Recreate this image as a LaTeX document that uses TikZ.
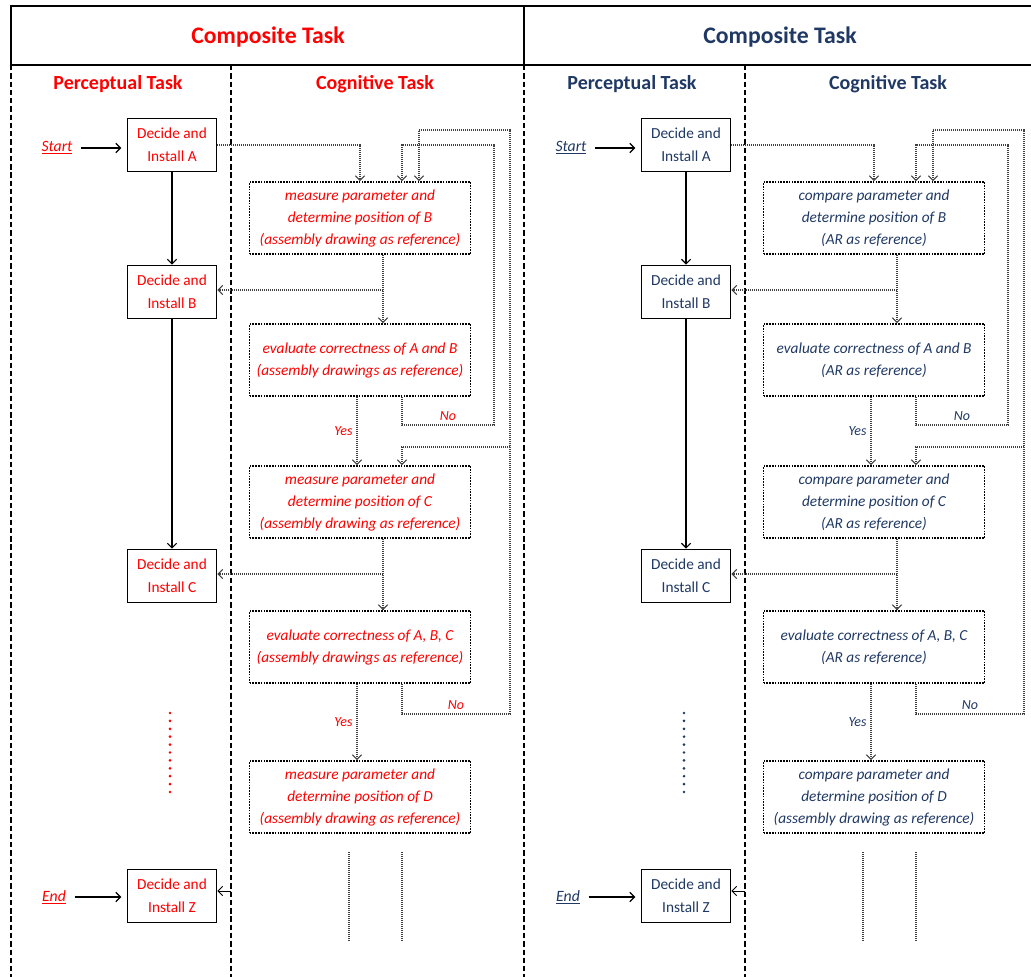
\documentclass[tikz,border=0pt]{standalone}
\usepackage{fontspec}
\setmainfont{Carlito}
\usepackage[HTML]{xcolor}
\usepackage{tikz}
\usetikzlibrary{positioning, arrows, arrows.meta}

\definecolor{navy}{HTML}{1F3864}
\definecolor{linkgray}{HTML}{404040}

\tikzset{
  >={Straight Barb[length=3.5pt,width=7pt]},
  framebox/.style={line width=1.1pt},
  lane/.style={line width=0.9pt, dash pattern=on 4pt off 2.2pt},
  install/.style={draw, line width=1.2pt, minimum width=66.75pt, minimum height=39.75pt,
    inner sep=0pt, align=center, font=\fontsize{11.5}{17}\selectfont},
  cogbox/.style={draw, line width=1.2pt, dash pattern=on 1.2pt off 0.9pt, minimum width=165.75pt,
    minimum height=54pt, inner sep=0pt, align=center, font=\fontsize{11.5}{16.5}\selectfont\itshape},
  link/.style={->, draw=linkgray, line width=0.8pt, dash pattern=on 0.8pt off 0.7pt},
  trail/.style={draw=linkgray, line width=0.8pt, dash pattern=on 0.8pt off 0.7pt},
  flow/.style={->, line width=0.9pt},
  maintitle/.style={font=\fontsize{17.8}{20}\selectfont\bfseries},
  lanehead/.style={font=\fontsize{15}{18}\selectfont\bfseries},
  ends/.style={font=\fontsize{11.8}{14}\selectfont\itshape},
  answer/.style={font=\fontsize{10.5}{12}\selectfont\itshape, inner sep=3pt},
}

\begin{document}
\begin{tikzpicture}[x=0.75pt, y=-0.75pt]
\useasboundingbox (0,0) rectangle (1031,977);

% --- Frame and swim lanes ---
\draw[framebox] (11,65) -- (11,6) -- (1031,6);
\draw[framebox] (11,65) -- (1031,65);
\draw[framebox] (524,6) -- (524,65);
\foreach \x in {11,231,524,745} \draw[lane] (\x,65) -- (\x,977);

% --- Left half: assembly drawing as reference ---
\begin{scope}[name prefix=l-, nodes={text=red}]
\node[maintitle] at (268,37) {Composite Task};
\node[lanehead] at (118,84) {Perceptual Task};
\node[lanehead] at (375,84) {Cognitive Task};

\node[install] (instA) at (172,145) {Decide and\\Install A};
\node[install] (instB) at (172,292) {Decide and\\Install B};
\node[install] (instC) at (172,576) {Decide and\\Install C};
\node[install] (instZ) at (172,896) {Decide and\\Install Z};
\node[ends] (start) at (57,148) {\underline{Start}};
\node[ends] (end) at (54,897) {\underline{End}};
\draw[flow, shorten <=3pt, shorten >=4pt] (start.east) -- (start -| instA.west);
\draw[flow, shorten <=3pt, shorten >=4pt] (end.east) -- (end -| instZ.west);
\draw[flow] (instA) -- (instB);
\draw[flow] (instB) -- (instC);
\foreach \i in {0,...,10} \fill[red] (170,{713+7.9*\i}) circle (1.1pt);

\node[cogbox] (measB) at (360,218) {measure parameter and\\determine position of B\\(assembly drawing as reference)};
\node[cogbox] (evalAB) at (360,360) {evaluate correctness of A and B\\(assembly drawings as reference)};
\node[cogbox] (measC) at (360,502) {measure parameter and\\determine position of C\\(assembly drawing as reference)};
\node[cogbox] (evalABC) at (360,647) {evaluate correctness of A, B, C\\(assembly drawings as reference)};
\node[cogbox] (measD) at (360,797) {measure parameter and\\determine position of D\\(assembly drawing as reference)};

\draw[link] (instA.east) -| (measB.north);
\coordinate (sB) at (383,290);
\draw[link] ([xshift=17.25pt]measB.south) -- ([xshift=17.25pt]evalAB.north);
\draw[link] (sB) -- (sB -| instB.east);
\draw[link] ([xshift=-2.25pt]evalAB.south) -- node[answer, left] {Yes} ([xshift=-2.25pt]measC.north);
\coordinate (loopA) at (494,425);
\draw[link] ([xshift=31.5pt]evalAB.south) |- node[answer, above, pos=0.75] {No} (loopA)
  -- (loopA |- instA.east) -| ([xshift=31.5pt]measB.north);

\coordinate (sC) at (383,574);
\draw[link] ([xshift=17.25pt]measC.south) -- ([xshift=17.25pt]evalABC.north);
\draw[link] (sC) -- (sC -| instC.east);
\draw[link] ([xshift=-2.25pt]evalABC.south) -- node[answer, left] {Yes} ([xshift=-2.25pt]measD.north);
\coordinate (loopB) at (510,714);
\coordinate (topB) at (510,130);
\coordinate (midB) at (510,447);
\draw[link] ([xshift=31.5pt]evalABC.south) |- node[answer, above, pos=0.75] {No} (loopB)
  -- (topB) -| ([xshift=44.25pt]measB.north);
\draw[link] (midB) -| ([xshift=31.5pt]measC.north);

\draw[trail] (349,852) -- (349,941);
\draw[trail] (402,852) -- (402,941);
\coordinate (zin) at (231,891);
\draw[->, line width=0.7pt] (zin) -- (zin -| instZ.east);
\end{scope}

% --- Right half: AR as reference ---
\begin{scope}[shift={(514,0)}, name prefix=r-, nodes={text=navy}]
\node[maintitle] at (266,37) {Composite Task};
\node[lanehead] at (118,84) {Perceptual Task};
\node[lanehead] at (374,84) {Cognitive Task};

\node[install] (instA) at (172,145) {Decide and\\Install A};
\node[install] (instB) at (172,292) {Decide and\\Install B};
\node[install] (instC) at (172,576) {Decide and\\Install C};
\node[install] (instZ) at (172,896) {Decide and\\Install Z};
\node[ends] (start) at (57,148) {\underline{Start}};
\node[ends] (end) at (54,897) {\underline{End}};
\draw[flow, shorten <=3pt, shorten >=4pt] (start.east) -- (start -| instA.west);
\draw[flow, shorten <=3pt, shorten >=4pt] (end.east) -- (end -| instZ.west);
\draw[flow] (instA) -- (instB);
\draw[flow] (instB) -- (instC);
\foreach \i in {0,...,10} \fill[navy] (170,{713+7.9*\i}) circle (1.1pt);

\node[cogbox] (measB) at (360,218) {compare parameter and\\determine position of B\\(AR as reference)};
\node[cogbox] (evalAB) at (360,360) {evaluate correctness of A and B\\(AR as reference)};
\node[cogbox] (measC) at (360,502) {compare parameter and\\determine position of C\\(AR as reference)};
\node[cogbox] (evalABC) at (360,647) {evaluate correctness of A, B, C\\(AR as reference)};
\node[cogbox] (measD) at (360,797) {compare parameter and\\determine position of D\\(assembly drawing as reference)};

\draw[link] (instA.east) -| (measB.north);
\coordinate (sB) at (383,290);
\draw[link] ([xshift=17.25pt]measB.south) -- ([xshift=17.25pt]evalAB.north);
\draw[link] (sB) -- (sB -| instB.east);
\draw[link] ([xshift=-2.25pt]evalAB.south) -- node[answer, left] {Yes} ([xshift=-2.25pt]measC.north);
\coordinate (loopA) at (494,425);
\draw[link] ([xshift=31.5pt]evalAB.south) |- node[answer, above, pos=0.75] {No} (loopA)
  -- (loopA |- instA.east) -| ([xshift=31.5pt]measB.north);

\coordinate (sC) at (383,574);
\draw[link] ([xshift=17.25pt]measC.south) -- ([xshift=17.25pt]evalABC.north);
\draw[link] (sC) -- (sC -| instC.east);
\draw[link] ([xshift=-2.25pt]evalABC.south) -- node[answer, left] {Yes} ([xshift=-2.25pt]measD.north);
\coordinate (loopB) at (510,714);
\coordinate (topB) at (510,130);
\coordinate (midB) at (510,447);
\draw[link] ([xshift=31.5pt]evalABC.south) |- node[answer, above, pos=0.75] {No} (loopB)
  -- (topB) -| ([xshift=44.25pt]measB.north);
\draw[link] (midB) -| ([xshift=31.5pt]measC.north);

\draw[trail] (349,852) -- (349,941);
\draw[trail] (402,852) -- (402,941);
\coordinate (zin) at (231,891);
\draw[->, line width=0.7pt] (zin) -- (zin -| instZ.east);
\end{scope}
\end{tikzpicture}
\end{document}
